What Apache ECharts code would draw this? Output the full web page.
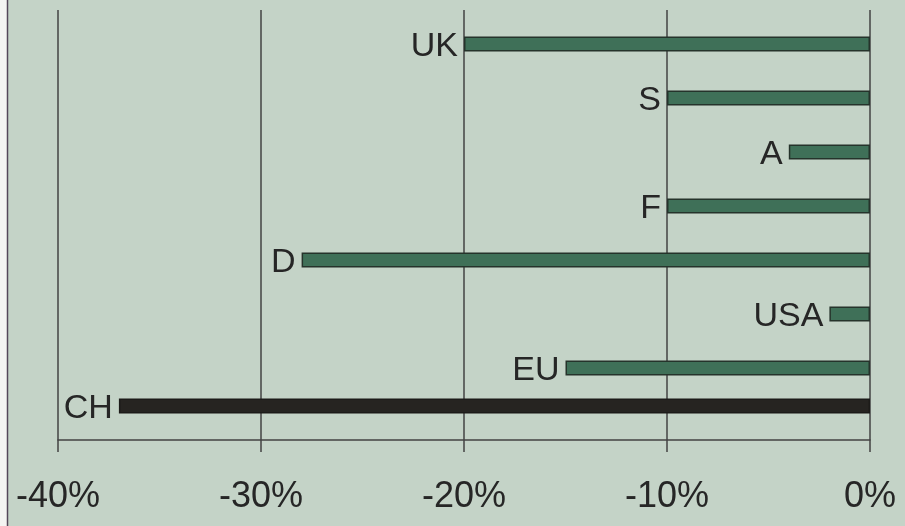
<!DOCTYPE html>
<html>
<head>
<meta charset="utf-8">
<script src="https://cdn.jsdelivr.net/npm/echarts@6/dist/echarts.min.js"></script>
<style>html,body{margin:0;padding:0;}#c{width:905px;height:526px;}</style>
</head>
<body>
<div id="c"></div>
<script>
// Data
var categories = ['UK', 'S', 'A', 'F', 'D', 'USA', 'EU'];
var values = [-20, -10, -4, -10, -28, -2, -15];
var chCategory = ['CH'];
var chValues = [-37];
var tickLabels = ['-40%', '-30%', '-20%', '-10%', '0%'];
var xMin = -40, xMax = 0, xStep = 10;

var chart = echarts.init(document.getElementById('c'), null, {renderer: 'canvas'});
var font = 'Liberation Sans, Arial, sans-serif';
var lineCol = '#434343';
var gridPos = {left: 58, right: 35};

function hiddenX(idx) {
  return {type: 'value', gridIndex: idx, min: xMin, max: xMax, interval: xStep, show: false};
}
var barLabel = {show: true, position: 'left', distance: 6, offset: [0, 3], formatter: '{b}', fontSize: 34, fontFamily: font, color: '#262626'};

var option = {
  backgroundColor: '#c4d3c7',
  animation: false,
  graphic: [
    {type: 'rect', shape: {x: 0, y: 0, width: 7, height: 526}, style: {fill: '#f4f4f2'}, silent: true},
    {type: 'line', shape: {x1: 7.5, y1: 0, x2: 7.5, y2: 526}, style: {stroke: '#54475a', lineWidth: 1.5}, silent: true}
  ],
  grid: [
    {left: gridPos.left, right: gridPos.right, top: 10, height: 430},
    {left: gridPos.left, right: gridPos.right, top: 17, height: 378},
    {left: gridPos.left, right: gridPos.right, top: 372, height: 68}
  ],
  xAxis: [
    {
      type: 'value', gridIndex: 0, min: xMin, max: xMax, interval: xStep,
      axisLine: {show: true, onZero: false, lineStyle: {color: lineCol, width: 1.5}},
      axisTick: {show: true, length: 12, lineStyle: {color: lineCol, width: 1.5}},
      splitLine: {show: true, lineStyle: {color: lineCol, width: 1.5}},
      axisLabel: {
        margin: 39, fontSize: 36, fontFamily: font, color: '#262626',
        formatter: function (v) { return tickLabels[Math.round((v - xMin) / xStep)]; }
      }
    },
    hiddenX(1),
    hiddenX(2)
  ],
  yAxis: [
    {type: 'value', gridIndex: 0, min: 0, max: 1, show: false},
    {type: 'category', gridIndex: 1, data: categories, inverse: true, show: false},
    {type: 'category', gridIndex: 2, data: chCategory, inverse: true, show: false}
  ],
  series: [
    {
      type: 'bar', xAxisIndex: 1, yAxisIndex: 1, data: values, barWidth: 15,
      itemStyle: {color: '#3f7058', borderColor: '#25332b', borderWidth: 1.5},
      label: barLabel
    },
    {
      type: 'bar', xAxisIndex: 2, yAxisIndex: 2, data: chValues, barWidth: 15,
      itemStyle: {color: '#262421', borderColor: '#1c1b19', borderWidth: 1.5},
      label: barLabel
    }
  ]
};
chart.setOption(option);
</script>
</body>
</html>
